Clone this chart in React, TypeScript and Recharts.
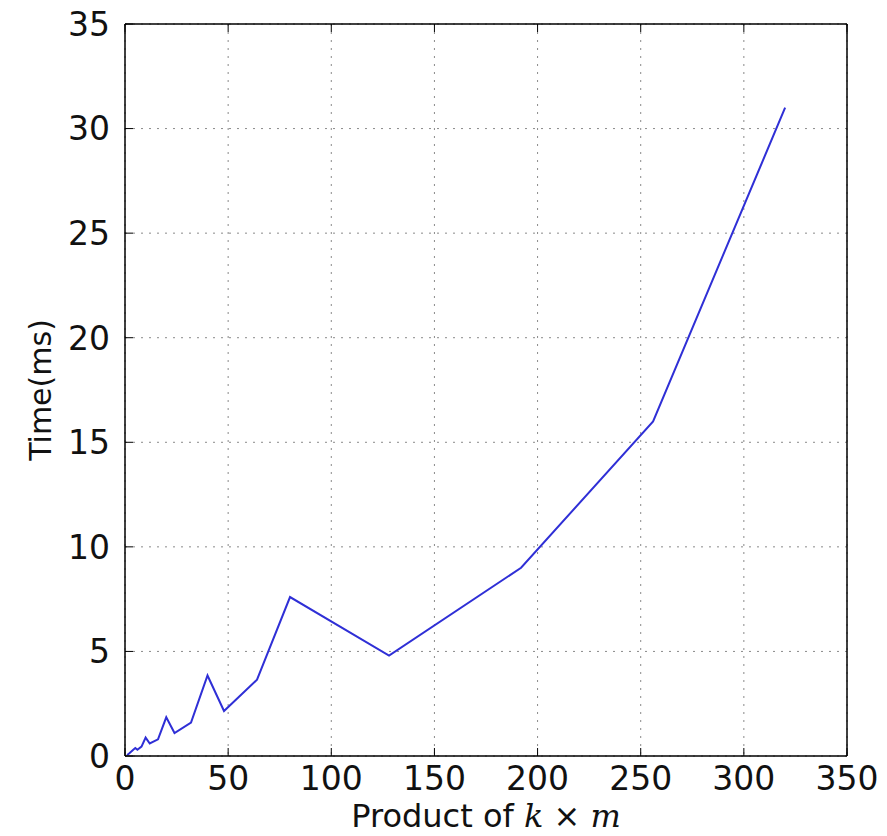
import { LineChart, Line, XAxis, YAxis, CartesianGrid, Label } from "recharts";

// product of k x m, and measured time in ms
const products = [1, 2, 4, 5, 6, 8, 10, 12, 16, 20, 24, 32, 40, 48, 64, 80, 128, 192, 256, 320];
const times = [0.05, 0.12, 0.3, 0.38, 0.3, 0.45, 0.88, 0.6, 0.8, 1.85, 1.1, 1.6, 3.85, 2.15, 3.65, 7.6, 4.8, 9.0, 16.0, 31.0];

const xTicks = [0, 50, 100, 150, 200, 250, 300, 350];
const yTicks = [0, 5, 10, 15, 20, 25, 30, 35];

const FONT = "DejaVu Sans";
const TICK_LEN = 8;

const data = products.map((p, i) => ({ product: p, time: times[i] }));

function BottomTick({ x, y, payload }: any) {
  return (
    <g>
      <line x1={x} y1={y} x2={x} y2={y - TICK_LEN} stroke="#000" strokeWidth={1} />
      <text x={x} y={y + 34} textAnchor="middle" fontFamily={FONT} fontSize={33} fill="#111">
        {payload.value}
      </text>
    </g>
  );
}

function TopTick({ x, y }: any) {
  return <line x1={x} y1={y} x2={x} y2={y + TICK_LEN} stroke="#000" strokeWidth={1} />;
}

function LeftTick({ x, y, payload }: any) {
  return (
    <g>
      <line x1={x} y1={y} x2={x + TICK_LEN} y2={y} stroke="#000" strokeWidth={1} />
      <text x={x - 15} y={y} dy="0.36em" textAnchor="end" fontFamily={FONT} fontSize={33} fill="#111">
        {payload.value}
      </text>
    </g>
  );
}

function RightTick({ x, y }: any) {
  return <line x1={x} y1={y} x2={x - TICK_LEN} y2={y} stroke="#000" strokeWidth={1} />;
}

export default function App() {
  return (
    <div style={{ position: "absolute", left: 0, top: 0, background: "#fff" }}>
      <LineChart width={887} height={836} data={data} margin={{ top: 0, right: 0, bottom: 0, left: 0 }}>
        <CartesianGrid stroke="#8a8a8a" strokeDasharray="2 6" strokeWidth={1} />
        <XAxis
          dataKey="product"
          type="number"
          domain={[0, 350]}
          ticks={xTicks}
          height={80}
          tickSize={0}
          tickMargin={0}
          tick={<BottomTick />}
          axisLine={{ stroke: "#000", strokeWidth: 1.5 }}
          allowDataOverflow
        >
          <Label
            content={({ viewBox }: any) => (
              <text
                x={viewBox.x + viewBox.width / 2}
                y={viewBox.y + 71}
                textAnchor="middle"
                fontFamily={FONT}
                fontSize={32}
                fill="#111"
              >
                Product of{" "}
                <tspan fontFamily="DejaVu Serif" fontStyle="italic">k</tspan>
                <tspan> × </tspan>
                <tspan fontFamily="DejaVu Serif" fontStyle="italic">m</tspan>
              </text>
            )}
          />
        </XAxis>
        <XAxis
          xAxisId="top"
          orientation="top"
          dataKey="product"
          type="number"
          domain={[0, 350]}
          ticks={xTicks}
          height={24}
          tickSize={0}
          tickMargin={0}
          tick={<TopTick />}
          axisLine={{ stroke: "#000", strokeWidth: 1.5 }}
        />
        <YAxis
          type="number"
          domain={[0, 35]}
          ticks={yTicks}
          width={125}
          tickSize={0}
          tickMargin={0}
          tick={<LeftTick />}
          axisLine={{ stroke: "#000", strokeWidth: 1.5 }}
        >
          <Label
            content={({ viewBox }: any) => {
              const cx = viewBox.x + 40;
              const cy = viewBox.y + viewBox.height / 2;
              return (
                <text
                  x={cx}
                  y={cy}
                  dy="0.36em"
                  transform={`rotate(-90 ${cx} ${cy})`}
                  textAnchor="middle"
                  fontFamily={FONT}
                  fontSize={30}
                  fill="#111"
                >
                  Time(ms)
                </text>
              );
            }}
          />
        </YAxis>
        <YAxis
          yAxisId="right"
          orientation="right"
          type="number"
          domain={[0, 35]}
          ticks={yTicks}
          width={40}
          tickSize={0}
          tickMargin={0}
          tick={<RightTick />}
          axisLine={{ stroke: "#000", strokeWidth: 1.5 }}
        />
        <Line
          dataKey="time"
          type="linear"
          stroke="#2f2fd6"
          strokeWidth={2}
          dot={false}
          isAnimationActive={false}
        />
      </LineChart>
    </div>
  );
}
